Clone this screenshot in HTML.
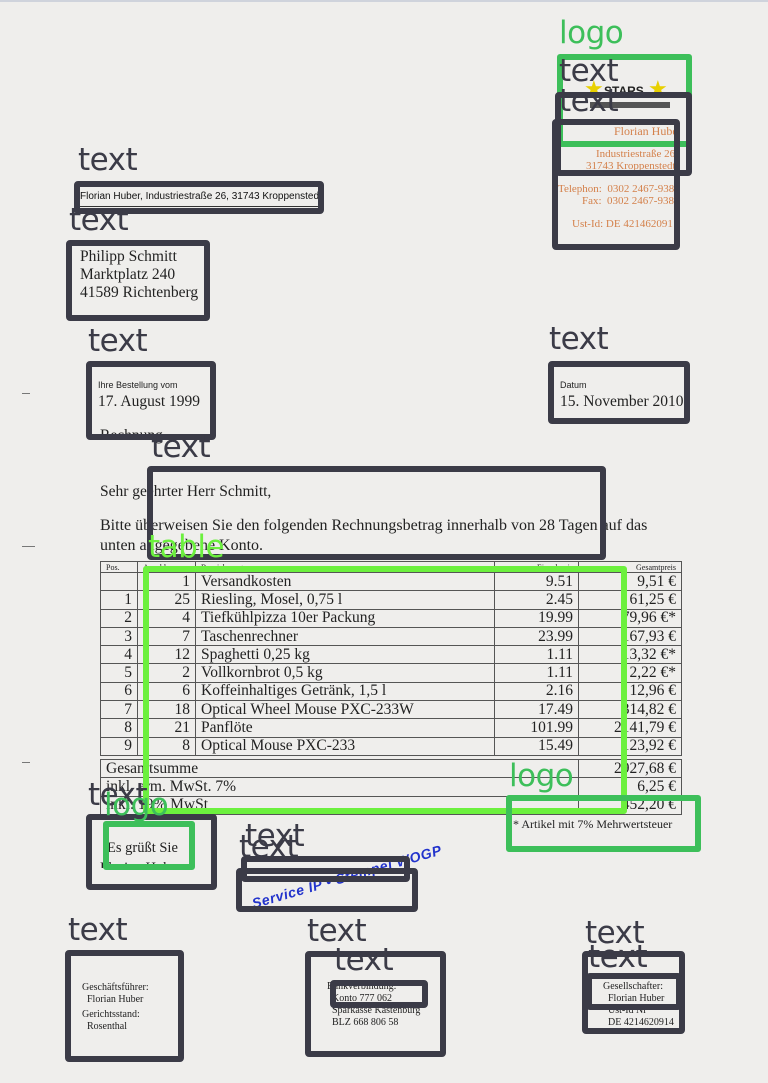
<!DOCTYPE html>
<html><head><meta charset="utf-8"><style>
*{margin:0;padding:0;box-sizing:border-box}
body{width:768px;height:1083px;background:#efeeec;position:relative;overflow:hidden;font-family:"Liberation Serif",serif;color:#222}
.a{position:absolute;white-space:nowrap}
.b{position:absolute;border:6px solid #3b3b47;border-radius:4px}
.g{position:absolute;border:6px solid #3dbf5a;border-radius:3px}
.lg{position:absolute;border:6px solid #6cf03e;border-radius:3px}
.l{position:absolute;font-family:"DejaVu Sans",sans-serif;font-size:31px;color:#3b3b47;line-height:1;white-space:nowrap;letter-spacing:-0.5px}
.lgreen{color:#3dbf5a}
.ltab{color:#6cf03e}
.o{color:#d4804a;font-size:11px}
.s{font-family:"Liberation Sans",sans-serif}
table{border-collapse:collapse;position:absolute;font-size:15.5px;table-layout:fixed}
td{border:1px solid #555;padding:0 5px;height:18.3px;line-height:16px;overflow:hidden;white-space:nowrap}
.r{text-align:right}
</style></head><body>
<div style="position:absolute;left:0;top:0;width:768px;height:2px;background:#cfd3dc"></div>
<div class="a" style="left:22px;top:393px;width:8px;height:1px;background:#777"></div>
<div class="a" style="left:22px;top:546px;width:13px;height:1px;background:#777"></div>
<div class="a" style="left:22px;top:762px;width:8px;height:1px;background:#777"></div>

<div class="a" style="left:584px;top:76px;font-size:22px;color:#e8d000">★</div>
<div class="a" style="left:648px;top:76px;font-size:22px;color:#e8d000">★</div>
<div class="a s" style="left:604px;top:84px;font-size:12px;font-weight:bold;color:#222">STARS</div>
<div class="a" style="left:590px;top:102px;width:80px;height:6px;background:#555"></div>
<div class="a" style="left:554px;top:118px;width:126px;height:132px;overflow:hidden">
<div class="a o" style="left:60px;top:6px;font-size:12px">Florian Huber</div>
<div class="a o" style="left:42px;top:30px">Industriestraße 26</div>
<div class="a o" style="left:32px;top:42px">31743 Kroppenstedt</div>
<div class="a o" style="left:4px;top:65px">Telephon:&nbsp; 0302 2467-938</div>
<div class="a o" style="left:28px;top:77px">Fax:&nbsp; 0302 2467-938</div>
<div class="a o" style="left:18px;top:100px">Ust-Id: DE 421462091</div>
</div>

<div class="a" style="left:78px;top:186px;width:242px;height:24px;overflow:hidden">
<div class="a s" style="left:2px;top:5px;font-size:10px;color:#111">Florian Huber, Industriestraße 26, 31743 Kroppenstedt</div>
<div class="a" style="left:0;top:20px;width:240px;height:1px;background:#333"></div>
</div>
<div class="a" style="left:80px;top:248px;font-size:15.5px;line-height:18px">Philipp Schmitt<br>Marktplatz 240<br>41589 Richtenberg</div>
<div class="a s" style="left:98px;top:380px;font-size:9px">Ihre Bestellung vom</div>
<div class="a" style="left:98px;top:393px;font-size:15.5px">17. August 1999</div>
<div class="a s" style="left:560px;top:380px;font-size:9px">Datum</div>
<div class="a" style="left:560px;top:393px;font-size:15.5px">15. November 2010</div>
<div class="a" style="left:100px;top:427px;font-size:15.5px">Rechnung</div>
<div class="a" style="left:100px;top:483px;font-size:15.5px">Sehr geehrter Herr Schmitt,</div>
<div class="a" style="left:100px;top:517px;font-size:16px">Bitte überweisen Sie den folgenden Rechnungsbetrag innerhalb von 28 Tagen auf das</div>
<div class="a" style="left:100px;top:537px;font-size:16px">unten angegebene Konto.</div>

<table style="left:100px;top:561px;width:582px">
<colgroup><col style="width:37px"><col style="width:58px"><col style="width:299px"><col style="width:84px"><col></colgroup>
<tr><td style="height:11px;font-size:8px;line-height:9px">Pos.</td><td style="height:11px;font-size:8px;line-height:9px">Anzahl</td><td style="height:11px;font-size:8px;line-height:9px">Bezeichnung</td><td style="height:11px;font-size:8px;line-height:9px" class="r">Einzelpreis</td><td style="height:11px;font-size:8px;line-height:9px" class="r">Gesamtpreis</td></tr>
<tr><td></td><td class="r">1</td><td>Versandkosten</td><td class="r">9.51</td><td class="r">9,51 €</td></tr>
<tr><td class="r">1</td><td class="r">25</td><td>Riesling, Mosel, 0,75 l</td><td class="r">2.45</td><td class="r">61,25 €</td></tr>
<tr><td class="r">2</td><td class="r">4</td><td>Tiefkühlpizza 10er Packung</td><td class="r">19.99</td><td class="r">79,96 €*</td></tr>
<tr><td class="r">3</td><td class="r">7</td><td>Taschenrechner</td><td class="r">23.99</td><td class="r">167,93 €</td></tr>
<tr><td class="r">4</td><td class="r">12</td><td>Spaghetti 0,25 kg</td><td class="r">1.11</td><td class="r">13,32 €*</td></tr>
<tr><td class="r">5</td><td class="r">2</td><td>Vollkornbrot 0,5 kg</td><td class="r">1.11</td><td class="r">2,22 €*</td></tr>
<tr><td class="r">6</td><td class="r">6</td><td>Koffeinhaltiges Getränk, 1,5 l</td><td class="r">2.16</td><td class="r">12,96 €</td></tr>
<tr><td class="r">7</td><td class="r">18</td><td>Optical Wheel Mouse PXC-233W</td><td class="r">17.49</td><td class="r">314,82 €</td></tr>
<tr><td class="r">8</td><td class="r">21</td><td>Panflöte</td><td class="r">101.99</td><td class="r">2141,79 €</td></tr>
<tr><td class="r">9</td><td class="r">8</td><td>Optical Mouse PXC-233</td><td class="r">15.49</td><td class="r">123,92 €</td></tr>
</table>
<table style="left:100px;top:759px;width:582px">
<colgroup><col style="width:478px"><col></colgroup>
<tr><td>Gesamtsumme</td><td class="r">2927,68 €</td></tr>
<tr><td>inkl. erm. MwSt. 7%</td><td class="r">6,25 €</td></tr>
<tr><td>inkl. 19% MwSt</td><td class="r">452,20 €</td></tr>
</table>
<div class="a" style="left:513px;top:817px;font-size:12px">* Artikel mit 7% Mehrwertsteuer</div>
<div class="a" style="left:107px;top:840px;font-size:14.5px">Es grüßt Sie</div>
<div class="a" style="left:100px;top:860px;font-size:14.5px;height:8px;overflow:hidden">Florian Huber</div>
<div class="a s" style="left:250px;top:896px;font-size:14px;font-weight:bold;font-style:italic;color:#2233cc;transform:rotate(-16deg);transform-origin:0 0;letter-spacing:0.6px">Service IP • Stempel WOGP</div>

<div class="a" style="left:82px;top:982px;font-size:10px;line-height:12px">Geschäftsführer:<br>&nbsp;&nbsp;Florian Huber</div>
<div class="a" style="left:82px;top:1009px;font-size:10px;line-height:12px">Gerichtsstand:<br>&nbsp;&nbsp;Rosenthal</div>
<div class="a" style="left:327px;top:981px;font-size:10px;line-height:12px">Bankverbindung:<br>&nbsp;&nbsp;Konto 777 062<br>&nbsp;&nbsp;Sparkasse Kastenburg<br>&nbsp;&nbsp;BLZ 668 806 58</div>
<div class="a" style="left:603px;top:981px;font-size:10px;line-height:12px">Gesellschafter:<br>&nbsp;&nbsp;Florian Huber<br>&nbsp;&nbsp;Ust-Id Nr<br>&nbsp;&nbsp;DE 4214620914</div>

<div class="g" style="left:557px;top:54px;width:135px;height:93px"></div>
<div class="b" style="left:555px;top:92px;width:137px;height:84px"></div>
<div class="b" style="left:552px;top:119px;width:128px;height:131px"></div>
<div class="b" style="left:74px;top:181px;width:250px;height:33px"></div>
<div class="b" style="left:66px;top:240px;width:144px;height:81px"></div>
<div class="b" style="left:86px;top:361px;width:130px;height:79px"></div>
<div class="b" style="left:548px;top:361px;width:142px;height:63px"></div>
<div class="b" style="left:147px;top:466px;width:459px;height:94px"></div>
<div class="lg" style="left:143px;top:566px;width:484px;height:248px"></div>
<div class="g" style="left:506px;top:795px;width:195px;height:57px"></div>
<div class="b" style="left:86px;top:814px;width:131px;height:76px"></div>
<div class="g" style="left:103px;top:821px;width:92px;height:49px"></div>
<div class="b" style="left:241px;top:856px;width:169px;height:26px"></div>
<div class="b" style="left:236px;top:868px;width:182px;height:44px"></div>
<div class="b" style="left:65px;top:950px;width:119px;height:112px"></div>
<div class="b" style="left:305px;top:951px;width:141px;height:106px"></div>
<div class="b" style="left:330px;top:980px;width:98px;height:28px"></div>
<div class="b" style="left:582px;top:951px;width:103px;height:83px"></div>
<div class="b" style="left:586px;top:973px;width:96px;height:37px"></div>

<div class="l lgreen" style="left:559px;top:18px">logo</div>
<div class="l" style="left:559px;top:56px">text</div>
<div class="l" style="left:559px;top:86px">text</div>
<div class="l" style="left:78px;top:145px">text</div>
<div class="l" style="left:69px;top:205px">text</div>
<div class="l" style="left:88px;top:326px">text</div>
<div class="l" style="left:549px;top:324px">text</div>
<div class="l" style="left:151px;top:432px">text</div>
<div class="l ltab" style="left:148px;top:532px">table</div>
<div class="l lgreen" style="left:509px;top:761px">logo</div>
<div class="l" style="left:88px;top:780px">text</div>
<div class="l lgreen" style="left:104px;top:790px">logo</div>
<div class="l" style="left:245px;top:821px">text</div>
<div class="l" style="left:239px;top:832px">text</div>
<div class="l" style="left:68px;top:915px">text</div>
<div class="l" style="left:307px;top:916px">text</div>
<div class="l" style="left:334px;top:945px">text</div>
<div class="l" style="left:585px;top:918px">text</div>
<div class="l" style="left:588px;top:942px">text</div>
</body></html>
